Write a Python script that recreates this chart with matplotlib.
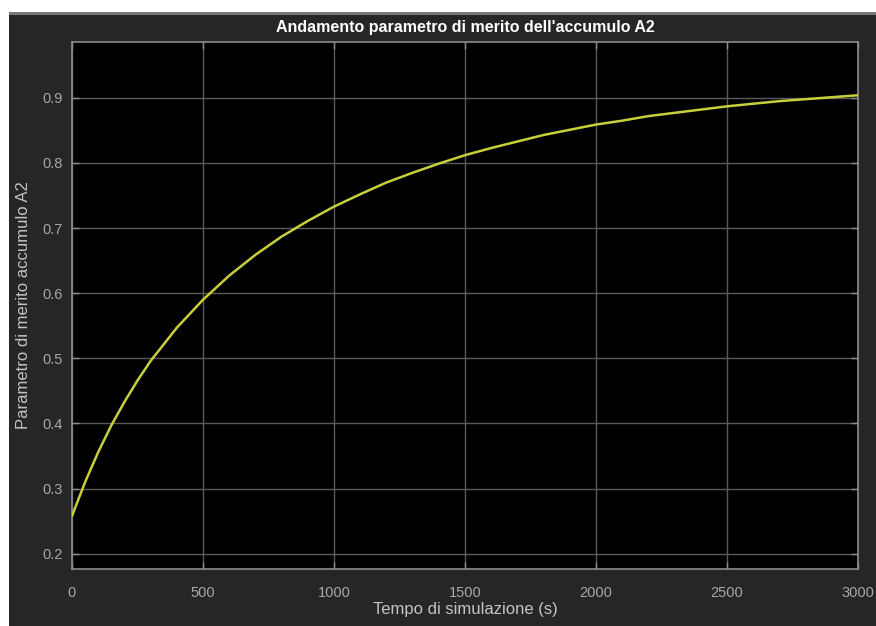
import matplotlib
matplotlib.use("Agg")
import matplotlib.pyplot as plt
from matplotlib.patches import Rectangle

# Data
time_s = [0, 50, 100, 150, 200, 250, 300, 400, 500, 600, 700, 800, 900,
          1000, 1100, 1200, 1300, 1400, 1500, 1600, 1700, 1800, 1900, 2000,
          2100, 2200, 2300, 2400, 2500, 2600, 2700, 2800, 2900, 3000]
merit_a2 = [0.258, 0.310, 0.356, 0.397, 0.433, 0.466, 0.496, 0.547, 0.590,
            0.627, 0.659, 0.687, 0.711, 0.733, 0.752, 0.770, 0.785, 0.799,
            0.812, 0.823, 0.833, 0.843, 0.851, 0.859, 0.865, 0.872, 0.877,
            0.882, 0.887, 0.891, 0.895, 0.898, 0.901, 0.904]
x_ticks = [0, 500, 1000, 1500, 2000, 2500, 3000]
y_ticks = [0.2, 0.3, 0.4, 0.5, 0.6, 0.7, 0.8, 0.9]

title = "Andamento parametro di merito dell'accumulo A2"
xlabel = "Tempo di simulazione (s)"
ylabel = "Parametro di merito accumulo A2"

plt.rcParams['font.family'] = ['Liberation Sans', 'DejaVu Sans']

W, H = 876, 626
fig = plt.figure(figsize=(W / 100, H / 100), dpi=100)
fig.patch.set_facecolor('white')
# dark window background (photographed screen), white margins top/left
fig.patches.append(Rectangle((9 / W, 0), 1 - 9 / W, 1 - 12 / H,
                             transform=fig.transFigure, facecolor='#262626',
                             edgecolor='none', zorder=-10))
fig.patches.append(Rectangle((9 / W, 1 - 15 / H), 1 - 9 / W, 3 / H,
                             transform=fig.transFigure, facecolor='#7a7a7a',
                             edgecolor='none', zorder=-9))

ax = fig.add_axes([72 / W, 1 - 569 / H, (858 - 72) / W, (569 - 42) / H])
ax.set_facecolor('black')

ax.plot(time_s, merit_a2, color='#c8cf3a', linewidth=1.8, zorder=3)

ax.set_xlim(0, 3000)
ax.set_ylim(0.1765, 0.9858)
ax.set_xticks(x_ticks)
ax.set_yticks(y_ticks)
ax.set_xticklabels([str(t) for t in x_ticks])
ax.set_yticklabels([f"{v:.1f}" for v in y_ticks])

ax.grid(True, color='#5a5a5a', linewidth=1.0)
ax.set_axisbelow(True)
for s in ax.spines.values():
    s.set_color('#8c8c8c')
    s.set_linewidth(1.2)

ax.tick_params(direction='in', length=5, width=1, colors='#8c8c8c',
               labelcolor='#a8a8a8', labelsize=10.5, top=True, right=True)
ax.tick_params(axis='x', pad=12)
ax.tick_params(axis='y', pad=7)

ax.set_title(title, color='white', fontsize=11.5, fontweight='bold', pad=7)
ax.set_xlabel(xlabel, color='#c4c4c4', fontsize=12, labelpad=2)
ax.set_ylabel(ylabel, color='#c4c4c4', fontsize=12, labelpad=8)

fig.savefig('out.png', dpi=100, facecolor=fig.get_facecolor())
